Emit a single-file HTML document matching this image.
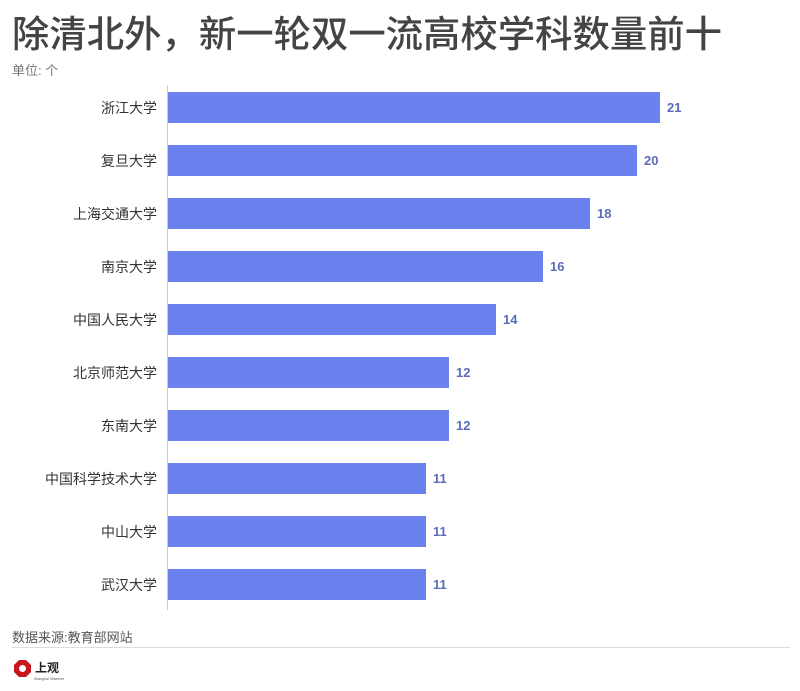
<!DOCTYPE html>
<html><head><meta charset="utf-8"><style>
body{margin:0;background:#fff;width:800px;height:686px;overflow:hidden;font-family:"Liberation Sans","Noto Sans CJK SC",sans-serif;}
</style></head><body>
<svg width="800" height="686" xmlns="http://www.w3.org/2000/svg" font-family="Liberation Sans, Noto Sans CJK SC, sans-serif">
<text x="12" y="47" font-size="37" fill="#444" font-weight="500" textLength="710" lengthAdjust="spacingAndGlyphs">除清北外，新一轮双一流高校学科数量前十</text>
<text x="12" y="75" font-size="13" fill="#777">单位: 个</text>
<line x1="167.5" y1="85" x2="167.5" y2="610" stroke="#ccc" stroke-width="1"/>
<g font-size="14" fill="#333" text-anchor="end">
<text x="157" y="113">浙江大学</text>
<text x="157" y="166">复旦大学</text>
<text x="157" y="219">上海交通大学</text>
<text x="157" y="272">南京大学</text>
<text x="157" y="325">中国人民大学</text>
<text x="157" y="378">北京师范大学</text>
<text x="157" y="431">东南大学</text>
<text x="157" y="484">中国科学技术大学</text>
<text x="157" y="537">中山大学</text>
<text x="157" y="590">武汉大学</text>
</g>
<g fill="#6b82ee">
<rect x="168" y="92" width="492" height="31"/>
<rect x="168" y="145" width="469" height="31"/>
<rect x="168" y="198" width="422" height="31"/>
<rect x="168" y="251" width="375" height="31"/>
<rect x="168" y="304" width="328" height="31"/>
<rect x="168" y="357" width="281" height="31"/>
<rect x="168" y="410" width="281" height="31"/>
<rect x="168" y="463" width="258" height="31"/>
<rect x="168" y="516" width="258" height="31"/>
<rect x="168" y="569" width="258" height="31"/>
</g>
<g font-size="13" fill="#5a6cb8" font-weight="bold">
<text x="667" y="112">21</text>
<text x="644" y="165">20</text>
<text x="597" y="218">18</text>
<text x="550" y="271">16</text>
<text x="503" y="324">14</text>
<text x="456" y="377">12</text>
<text x="456" y="430">12</text>
<text x="433" y="483">11</text>
<text x="433" y="536">11</text>
<text x="433" y="589">11</text>
</g>
<text x="12" y="642" font-size="13" fill="#555">数据来源:教育部网站</text>
<line x1="12" y1="647.5" x2="790" y2="647.5" stroke="#ddd"/>
<polygon points="19,660 26,660 31,665 31,672 26,677 19,677 14,672 14,665" fill="#c8161d"/>
<circle cx="22.5" cy="668.5" r="3.5" fill="#fff"/>
<text x="35" y="672" font-size="12" fill="#222" font-weight="bold">上观</text>
<text x="34" y="680" font-size="3.5" fill="#555">Shanghai Observer</text>
</svg>
</body></html>
